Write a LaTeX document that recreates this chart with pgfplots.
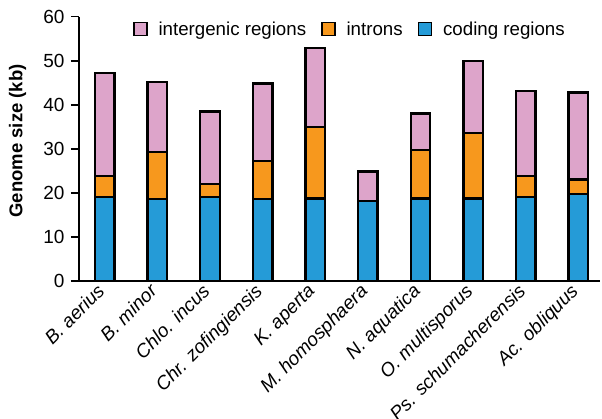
\documentclass[border=0pt]{standalone}
\usepackage{pgfplots}
\pgfplotsset{compat=1.18}
\usepackage{fontspec}
\setmainfont{Liberation Sans}
\definecolor{cblue}{HTML}{259BD7}
\definecolor{corange}{HTML}{F7981D}
\definecolor{cpink}{HTML}{DDA4CA}
\pgfplotsset{mylegimg/.style={legend image code/.code={\draw[##1, line width=1.4pt] (0pt,-6.5pt) rectangle (13pt,6.5pt);}}}
\begin{document}
\begin{tikzpicture}
\begin{axis}[
  scale only axis, width=521pt, height=264.3pt,
  ybar stacked, bar width=19.5pt,
  xmin=-0.49, xmax=9.41, ymin=0, ymax=60,
  axis x line=bottom, axis y line=left,
  axis line style={line width=1.6pt, -},
  ytick={0,10,...,60},
  tick align=outside, major tick length=8pt,
  y tick style={line width=1.6pt, black},
  x tick style={draw=none},
  /pgf/number format/assume math mode=true,
  yticklabel style={font=\fontsize{19}{21}\selectfont, xshift=-3pt},
  xtick=data,
  xticklabels={B. aerius, B. minor, Chlo. incus, Chr. zofingiensis, K. aperta, M. homosphaera, N. aquatica, O. multisporus, Ps. schumacherensis, Ac. obliquus},
  xticklabel style={font=\fontsize{19}{21}\selectfont\itshape, xshift=-9pt, yshift=8pt, rotate=45, anchor=north east, inner sep=1pt},
  ylabel={Genome size (kb)},
  ylabel style={font=\fontsize{18.5}{20}\selectfont\bfseries, at={(axis description cs:-0.118,0.53)}, anchor=center},
  legend style={at={(axis description cs:0.1036,0.953)}, anchor=west, draw=none, fill=none,
    font=\fontsize{18.7}{20}\selectfont, inner sep=0pt,
    /tikz/every odd column/.append style={column sep=9pt},
    /tikz/every even column/.append style={column sep=13pt}},
  legend columns=3, reverse legend,
  legend cell align=left,
]
\addplot[fill=cblue, draw=black, line width=2.4pt, mylegimg]
  coordinates {(0,19.1) (1,18.6) (2,19.1) (3,18.6) (4,18.7) (5,18.2) (6,18.7) (7,18.7) (8,19.1) (9,19.7)};
\addlegendentry{coding regions}
\addplot[fill=corange, draw=black, line width=2.4pt, mylegimg]
  coordinates {(0,4.8) (1,10.7) (2,2.9) (3,8.7) (4,16.3) (5,0) (6,11.1) (7,14.9) (8,4.8) (9,3.3)};
\addlegendentry{introns}
\addplot[fill=cpink, draw=black, line width=2.4pt, mylegimg]
  coordinates {(0,23.3) (1,15.9) (2,16.5) (3,17.5) (4,17.9) (5,6.7) (6,8.2) (7,16.4) (8,19.3) (9,19.8)};
\addlegendentry{intergenic regions}
\end{axis}
\pgfresetboundingbox
\path[use as bounding box] (-79pt,-138pt) rectangle (523pt,281pt);
\end{tikzpicture}
\end{document}
